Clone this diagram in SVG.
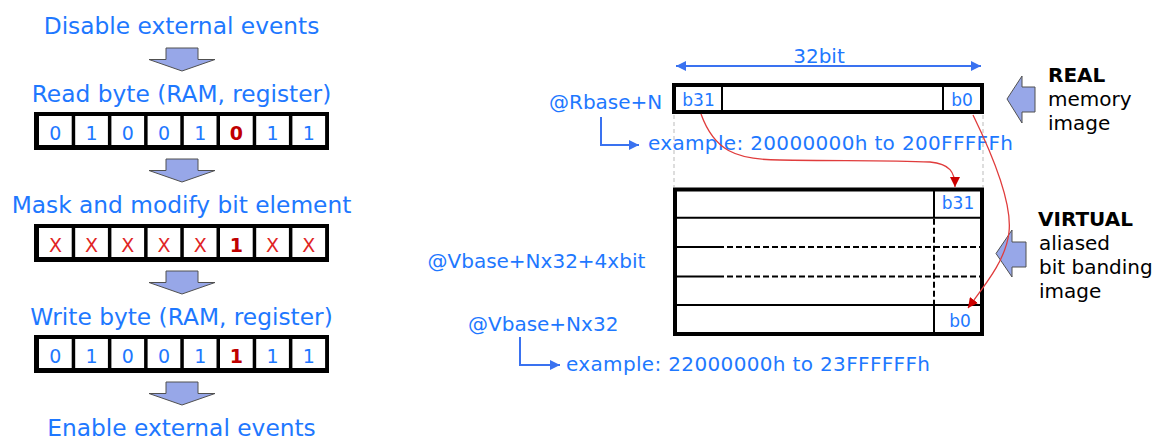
<svg xmlns="http://www.w3.org/2000/svg" width="1157" height="440" viewBox="0 0 1157 440">
<style>
.t{font-family:"DejaVu Sans",Verdana,sans-serif;fill:#1e78ff}
.big{font-size:23.3px;text-anchor:middle}
.mid{font-size:20px}
.cell{font-size:19px;text-anchor:middle}
.bb{font-size:17px;text-anchor:middle}
.blk{font-family:"DejaVu Sans",Verdana,sans-serif;font-size:20px;fill:#000}
.hot{fill:#c00000;font-weight:bold}
.x{fill:#e02424}
.barrow{fill:#97a7e8;stroke:#505050;stroke-width:1}
.frame{fill:#000}
.cw{fill:#fff}
.box{fill:#fff;stroke:#000;stroke-width:4}
.sep{stroke:#000;stroke-width:2;fill:none}
.dash{stroke:#000;stroke-width:2;stroke-dasharray:6,3;fill:none}
.guide{stroke:#bbb;stroke-width:1;stroke-dasharray:4,3;fill:none}
.blue{stroke:#3a72f0;stroke-width:2;fill:none}
.red{stroke:#e03c3c;stroke-width:1.3;fill:none}
</style>
<defs>
<marker id="ba" viewBox="0 0 10 10" refX="10" refY="5" markerWidth="10" markerHeight="10" markerUnits="userSpaceOnUse" orient="auto-start-reverse"><path d="M0,0 L10,5 L0,10 Z" fill="#3a72f0"/></marker>
<marker id="ra" viewBox="0 0 10 10" refX="10" refY="5" markerWidth="10" markerHeight="10" markerUnits="userSpaceOnUse" orient="auto"><path d="M0,0 L10,5 L0,10 Z" fill="#cc0000"/></marker>
<g id="cells">
<rect class="cw" x="39" y="4" width="32.7" height="29"/>
<rect class="cw" x="75.2" y="4" width="32.7" height="29"/>
<rect class="cw" x="111.4" y="4" width="32.7" height="29"/>
<rect class="cw" x="147.6" y="4" width="32.7" height="29"/>
<rect class="cw" x="183.8" y="4" width="32.7" height="29"/>
<rect class="cw" x="220" y="4" width="32.7" height="29"/>
<rect class="cw" x="256.2" y="4" width="32.7" height="29"/>
<rect class="cw" x="292.4" y="4" width="32.7" height="29"/>
</g>
</defs>

<!-- left flow -->
<g id="step1"><text class="t big" x="181.5" y="34">Disable external events</text></g>
<g id="arrow1"><path class="barrow" d="M166,48 H198 V59.5 H215 L182,71 L149,59.5 H166 Z"/></g>
<g id="step2"><text class="t big" x="181.5" y="102">Read byte (RAM, register)</text></g>
<g id="byte1">
<rect class="frame" x="34" y="112" width="295" height="38"/>
<use href="#cells" y="112"/>
<text class="t cell" y="140"><tspan x="55.4">0</tspan><tspan x="91.6">1</tspan><tspan x="127.8">0</tspan><tspan x="164">0</tspan><tspan x="200.2">1</tspan><tspan x="236.4" class="hot">0</tspan><tspan x="272.6">1</tspan><tspan x="308.8">1</tspan></text>
</g>
<g id="arrow2"><path class="barrow" d="M166,159 H198 V170.5 H215 L182,182 L149,170.5 H166 Z"/></g>
<g id="step3"><text class="t big" x="181.5" y="213">Mask and modify bit element</text></g>
<g id="byte2">
<rect class="frame" x="34" y="224" width="295" height="38"/>
<use href="#cells" y="224"/>
<text class="t cell x" y="252"><tspan x="55.4">X</tspan><tspan x="91.6">X</tspan><tspan x="127.8">X</tspan><tspan x="164">X</tspan><tspan x="200.2">X</tspan><tspan x="236.4" class="hot">1</tspan><tspan x="272.6">X</tspan><tspan x="308.8">X</tspan></text>
</g>
<g id="arrow3"><path class="barrow" d="M166,271 H198 V282.5 H215 L182,294 L149,282.5 H166 Z"/></g>
<g id="step4"><text class="t big" x="181.5" y="325">Write byte (RAM, register)</text></g>
<g id="byte3">
<rect class="frame" x="34" y="335" width="295" height="38"/>
<use href="#cells" y="335"/>
<text class="t cell" y="363"><tspan x="55.4">0</tspan><tspan x="91.6">1</tspan><tspan x="127.8">0</tspan><tspan x="164">0</tspan><tspan x="200.2">1</tspan><tspan x="236.4" class="hot">1</tspan><tspan x="272.6">1</tspan><tspan x="308.8">1</tspan></text>
</g>
<g id="arrow4"><path class="barrow" d="M166,382 H198 V393.5 H215 L182,405 L149,393.5 H166 Z"/></g>
<g id="step5"><text class="t big" x="181.5" y="436">Enable external events</text></g>

<!-- right diagram -->
<g id="width32">
<text class="t mid" x="819" y="63" text-anchor="middle">32bit</text>
</g>
<g id="guides">
<line class="guide" x1="674" y1="115" x2="674" y2="187"/>
<line class="guide" x1="983" y1="115" x2="983" y2="187"/>
</g>
<g id="realWord">
<rect class="box" x="674" y="85" width="308" height="27"/>
<line class="sep" x1="722" y1="87" x2="722" y2="110"/>
<line class="sep" x1="943" y1="87" x2="943" y2="110"/>
<text class="t bb" x="698.5" y="106">b31</text>
<text class="t bb" x="962" y="106">b0</text>
</g>
<g id="rbase"><text class="t mid" x="549" y="109">@Rbase+N</text></g>
<g id="rexample"><text class="t mid" x="648" y="150" textLength="365">example: 20000000h to 200FFFFFh</text></g>
<g id="virtualWords">
<rect class="box" x="675" y="189.5" width="307" height="144.5"/>
<line class="sep" x1="677" y1="217.7" x2="980" y2="217.7"/>
<line class="sep" x1="677" y1="247" x2="718" y2="247"/>
<line class="dash" x1="718" y1="247" x2="980" y2="247"/>
<line class="sep" x1="677" y1="276.5" x2="718" y2="276.5"/>
<line class="dash" x1="718" y1="276.5" x2="980" y2="276.5"/>
<line class="sep" x1="677" y1="305" x2="980" y2="305"/>
<line class="sep" x1="934" y1="191" x2="934" y2="217.7"/>
<line class="dash" x1="934" y1="218.7" x2="934" y2="304"/>
<line class="sep" x1="934" y1="305" x2="934" y2="332"/>
<text class="t bb" x="958" y="209">b31</text>
<text class="t bb" x="960" y="327">b0</text>
</g>
<g id="vbit"><text class="t mid" x="427.5" y="268">@Vbase+Nx32+4xbit</text></g>
<g id="vbase"><text class="t mid" x="468" y="331">@Vbase+Nx32</text></g>
<g id="vexample"><text class="t mid" x="566" y="371" textLength="364">example: 22000000h to 23FFFFFFh</text></g>
<g id="realLabel">
<path class="barrow" d="M1007,99 L1022,76 V87 H1035 V112 H1022 V123 Z"/>
<text class="blk" x="1048" y="82" font-weight="bold">REAL</text>
<text class="blk" x="1048" y="106">memory</text>
<text class="blk" x="1048" y="130">image</text>
</g>
<g id="virtualLabel">
<path class="barrow" d="M996,253.5 L1012,230 V242 H1026 V267 H1012 V277 Z"/>
<text class="blk" x="1038" y="226" font-weight="bold">VIRTUAL</text>
<text class="blk" x="1039" y="250">aliased</text>
<text class="blk" x="1039" y="274">bit banding</text>
<text class="blk" x="1039" y="298">image</text>
</g>

<g id="connectors">
<line class="blue" x1="676" y1="66" x2="981" y2="66" stroke-width="1.5" marker-start="url(#ba)" marker-end="url(#ba)"/>
<path class="blue" d="M601,117 V145 H639" marker-end="url(#ba)"/>
<path class="blue" d="M520,337 V365 H560" marker-end="url(#ba)"/>
<path class="red" d="M701,114 C714,150 735,160 780,160 C840,161 890,160 930,162 C950,164 955,172 955,187" marker-end="url(#ra)"/>
<path class="red" d="M973,115 C995,160 1012,205 1009,232 C1006,260 985,285 968,308" marker-end="url(#ra)"/>
</g>
</svg>
